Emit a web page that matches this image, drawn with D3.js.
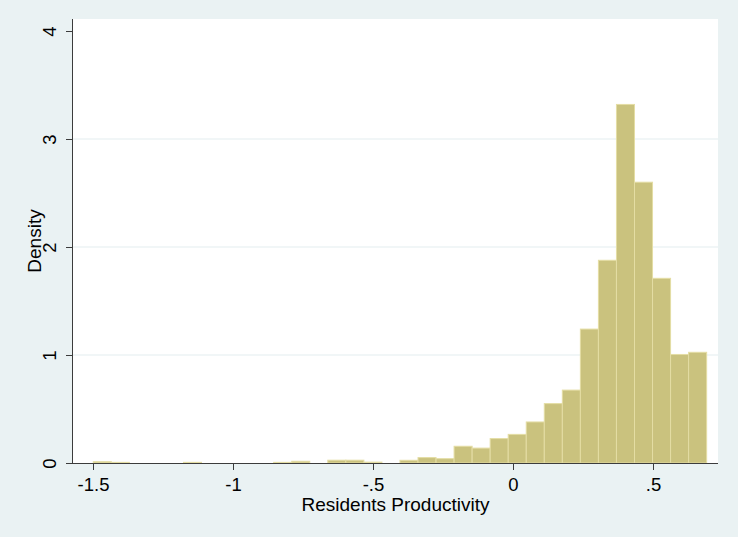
<!DOCTYPE html>
<html>
<head>
<meta charset="utf-8">
<script src="https://cdn.jsdelivr.net/npm/d3@7"></script>
<style>
  body { margin: 0; background: #eaf2f3; }
  svg { display: block; font-family: "Liberation Sans", Arial, sans-serif; }
</style>
</head>
<body>
<svg width="738" height="537"></svg>
<script>
// histogram bins (density)
var binStart = -1.499;
var binWidth = 0.06443;
var density = [0.012, 0.006, 0, 0, 0, 0.006, 0, 0, 0, 0,
               0.006, 0.016, 0, 0.026, 0.026, 0.008, 0, 0.025, 0.05, 0.04,
               0.155, 0.138, 0.226, 0.265, 0.38, 0.55, 0.675, 1.24, 1.877, 3.32,
               2.60, 1.71, 1.005, 1.025];
var xTicks = [-1.5, -1, -0.5, 0, 0.5];
var xTickLabels = ["-1.5", "-1", "-.5", "0", ".5"];
var yTicks = [0, 1, 2, 3, 4];

var svg = d3.select("svg");
var plot = {left: 73, right: 718, top: 19, bottom: 463};

var x = d3.scaleLinear().domain([-1.5, 0.5]).range([93, 653]);
var y = d3.scaleLinear().domain([0, 4]).range([463, 31]);

var bins = density.map(function(d, i) {
  return {x0: binStart + i * binWidth, x1: binStart + (i + 1) * binWidth, h: d};
});

// plot region
svg.append("rect")
    .attr("x", plot.left)
    .attr("y", plot.top)
    .attr("width", plot.right - plot.left)
    .attr("height", plot.bottom - plot.top)
    .attr("fill", "#ffffff");

// grid lines
svg.append("g")
  .selectAll("line")
  .data(yTicks.filter(function(d) { return d > 0 && d < 4; }))
  .enter()
  .append("line")
    .attr("x1", plot.left)
    .attr("x2", plot.right)
    .attr("y1", function(d) { return y(d); })
    .attr("y2", function(d) { return y(d); })
    .attr("stroke", "#e3eef0")
    .attr("stroke-width", 1.2);

// bars
svg.append("g")
  .selectAll("rect")
  .data(bins.filter(function(d) { return d.h > 0; }))
  .enter()
  .append("rect")
    .attr("x", function(d) { return x(d.x0); })
    .attr("y", function(d) { return y(d.h); })
    .attr("width", function(d) { return x(d.x1) - x(d.x0); })
    .attr("height", function(d) { return y(0) - y(d.h); })
    .attr("fill", "#cac27e")
    .attr("stroke", "#e4dda4")
    .attr("stroke-width", 1);

// x axis
var xAxis = svg.append("g")
    .attr("transform", "translate(0," + plot.bottom + ")")
    .call(d3.axisBottom(x)
      .tickValues(xTicks)
      .tickFormat(function(d, i) { return xTickLabels[i]; })
      .tickSize(7)
      .tickPadding(8)
      .tickSizeOuter(0));
xAxis.select(".domain")
    .attr("d", "M" + plot.left + ",0.5H" + plot.right)
    .attr("stroke", "#3c3c3c");
xAxis.selectAll(".tick line").attr("stroke", "#3c3c3c");
xAxis.selectAll(".tick text")
    .attr("font-size", 18.5)
    .attr("fill", "#000")
    .attr("font-family", "Liberation Sans, Arial, sans-serif");

// y axis
var yAxis = svg.append("g")
    .attr("transform", "translate(" + plot.left + ",0)")
    .call(d3.axisLeft(y)
      .tickValues(yTicks)
      .tickFormat(d3.format("d"))
      .tickSize(7)
      .tickSizeOuter(0));
yAxis.select(".domain")
    .attr("d", "M-0.5," + plot.bottom + "V" + plot.top)
    .attr("stroke", "#3c3c3c");
yAxis.selectAll(".tick line").attr("stroke", "#3c3c3c");
yAxis.selectAll(".tick text")
    .attr("x", null)
    .attr("dy", null)
    .attr("transform", "translate(-17,0) rotate(-90)")
    .attr("text-anchor", "middle")
    .attr("font-size", 18.5)
    .attr("fill", "#000")
    .attr("font-family", "Liberation Sans, Arial, sans-serif");

// axis titles
svg.append("text")
    .attr("x", (plot.left + plot.right) / 2)
    .attr("y", 511)
    .attr("text-anchor", "middle")
    .attr("font-size", 19)
    .text("Residents Productivity");

svg.append("text")
    .attr("transform", "translate(41," + ((plot.top + plot.bottom) / 2) + ") rotate(-90)")
    .attr("text-anchor", "middle")
    .attr("font-size", 19)
    .text("Density");
</script>
</body>
</html>
